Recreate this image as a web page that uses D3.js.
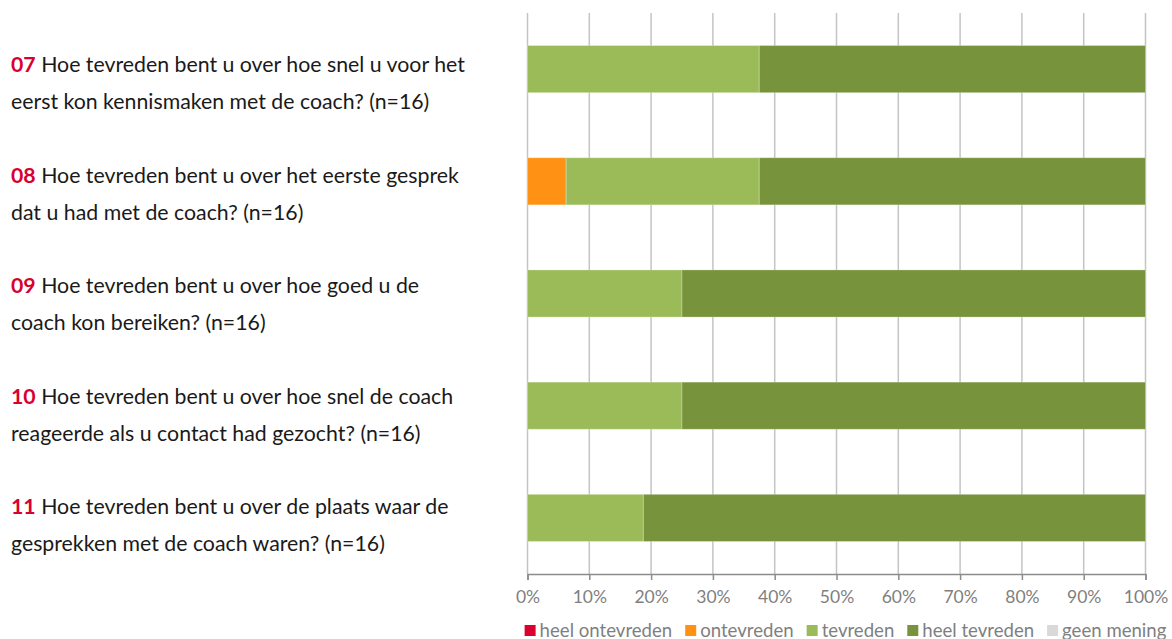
<!DOCTYPE html>
<html>
<head>
<meta charset="utf-8">
<script src="https://cdn.jsdelivr.net/npm/d3@7"></script>
<style>
  body { margin: 0; background: #fff; }
  svg { display: block; font-family: Lato, "Open Sans", sans-serif; }
</style>
</head>
<body>
<div id="target"></div>
<script>
const questionIds = ["07", "08", "09", "10", "11"];
const questionLines = [
  ["Hoe tevreden bent u over hoe snel u voor het", "eerst kon kennismaken met de coach? (n=16)"],
  ["Hoe tevreden bent u over het eerste gesprek", "dat u had met de coach? (n=16)"],
  ["Hoe tevreden bent u over hoe goed u de", "coach kon bereiken? (n=16)"],
  ["Hoe tevreden bent u over hoe snel de coach", "reageerde als u contact had gezocht? (n=16)"],
  ["Hoe tevreden bent u over de plaats waar de", "gesprekken met de coach waren? (n=16)"]
];

const seriesNames = ["heel ontevreden", "ontevreden", "tevreden", "heel tevreden", "geen mening"];
const seriesColors = ["#dc0030", "#ff9114", "#9bbb59", "#77933c", "#d9d9d9"];

// percentages per question (n=16)
const heelOntevreden = [0, 0, 0, 0, 0];
const ontevreden = [0, 6.25, 0, 0, 0];
const tevreden = [37.5, 31.25, 25, 25, 18.75];
const heelTevreden = [62.5, 62.5, 75, 75, 81.25];
const geenMening = [0, 0, 0, 0, 0];

const tickValues = [0, 10, 20, 30, 40, 50, 60, 70, 80, 90, 100];

const width = 1172,
  height = 639;

const rows = questionIds.map((id, i) => ({
  id: id,
  "heel ontevreden": heelOntevreden[i],
  "ontevreden": ontevreden[i],
  "tevreden": tevreden[i],
  "heel tevreden": heelTevreden[i],
  "geen mening": geenMening[i]
}));

const x = d3.scaleLinear()
  .domain([0, 100])
  .range([527.5, 1145.5]);

const y = d3.scaleBand()
  .domain(questionIds)
  .range([13, 574])
  .paddingInner(0.58)
  .paddingOuter(0.29);

// question text sits in its own column, baseline of first line
const labelY = d3.scalePoint()
  .domain(questionIds)
  .range([72, 514]);

const color = d3.scaleOrdinal()
  .domain(seriesNames)
  .range(seriesColors);

const stack = d3.stack().keys(seriesNames);

const svg = d3.select("#target").append("svg")
  .attr("width", width)
  .attr("height", height);

// gridlines
svg.append("g")
  .selectAll("line")
  .data(tickValues)
  .enter()
  .append("line")
  .attr("x1", (d) => x(d))
  .attr("x2", (d) => x(d))
  .attr("y1", 13)
  .attr("y2", 574)
  .attr("stroke", "#c4c4c4")
  .attr("stroke-width", 1.5);

// bars
const layers = svg.append("g")
  .selectAll("g")
  .data(stack(rows))
  .enter()
  .append("g")
  .attr("fill", (d) => color(d.key));

layers.selectAll("rect")
  .data((d) => d)
  .enter()
  .append("rect")
  .attr("x", (d) => x(d[0]))
  .attr("y", (d) => y(d.data.id))
  .attr("width", (d) => Math.max(0, x(d[1]) - x(d[0])))
  .attr("height", y.bandwidth())
  .attr("stroke", "#fff")
  .attr("stroke-opacity", (d) => (d[1] - d[0]) > 0 ? 0.25 : 0)
  .attr("stroke-width", 1);

// x axis
const axis = svg.append("g")
  .attr("transform", "translate(0,574)")
  .call(d3.axisBottom(x)
    .tickValues(tickValues)
    .tickSize(6)
    .tickPadding(11)
    .tickFormat((d) => d + "%"));

axis.select(".domain")
  .attr("stroke", "#8c8c8c")
  .attr("stroke-width", 1.5);
axis.selectAll(".tick line")
  .attr("stroke", "#8c8c8c")
  .attr("stroke-width", 1.5);
axis.selectAll(".tick text")
  .attr("fill", "#7f7f7f")
  .attr("font-size", 17.5)
  .attr("font-family", "Lato, sans-serif");

// question labels
const labels = svg.append("g")
  .selectAll("g")
  .data(questionIds)
  .enter()
  .append("g")
  .attr("transform", (d) => `translate(11,${labelY(d)})`);

labels.each(function (d, i) {
  const g = d3.select(this);
  const t1 = g.append("text")
    .attr("font-size", 21.3)
    .attr("fill", "#1a1a1a");
  t1.append("tspan")
    .attr("fill", "#d9002f")
    .attr("font-weight", "bold")
    .text(d);
  t1.append("tspan")
    .text(" " + questionLines[i][0]);
  g.append("text")
    .attr("y", 37)
    .attr("font-size", 21.3)
    .attr("fill", "#1a1a1a")
    .text(questionLines[i][1]);
});

// legend
const legend = svg.append("g");

let lx = 0;
legend.selectAll("g")
  .data(seriesNames)
  .enter()
  .append("g")
  .each(function (d) {
    const g = d3.select(this);
    g.attr("transform", `translate(${lx},0)`);
    g.append("rect")
      .attr("x", 0)
      .attr("y", -12)
      .attr("width", 11)
      .attr("height", 11)
      .attr("fill", color(d));
    const t = g.append("text")
      .attr("x", 15)
      .attr("font-size", 18.6)
      .attr("fill", "#7f7f7f")
      .text(d);
    lx += 15 + t.node().getComputedTextLength() + 13;
  });

const legendWidth = lx - 13;
legend.attr("transform", `translate(${845.5 - legendWidth / 2},637)`);
</script>
</body>
</html>
